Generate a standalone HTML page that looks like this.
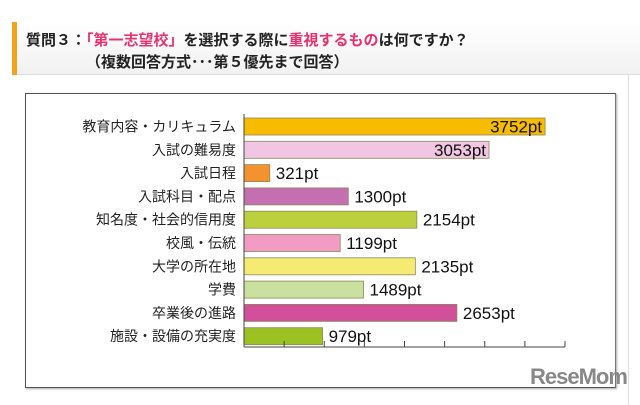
<!DOCTYPE html>
<html><head><meta charset="utf-8"><style>
body{margin:0;width:640px;height:400px;background:#fff;overflow:hidden;font-family:"Liberation Sans","Noto Sans CJK JP",sans-serif;position:relative}
#hdr{position:absolute;left:12px;top:22px;width:628px;height:52px;background:linear-gradient(#fff,#f1f1f1);border-bottom:1px solid #ddd}
#bar{position:absolute;left:12px;top:22px;width:5px;height:53px;background:#f3a21c}
.t{position:absolute;font-weight:bold;font-size:15px;color:#222;white-space:nowrap}
.r{color:#e6336f}
#panel{position:absolute;left:12px;top:75px;width:616px;height:330px;border-right:1px solid #ddd}
#box{position:absolute;left:25px;top:93px;width:589px;height:293px;border:1px solid #555;border-right-color:#777;box-shadow:1px 1px 2px #aaa;background:#fff}
#logo{position:absolute;left:530px;top:364px;font-size:22px;font-weight:bold;color:#888;letter-spacing:-1px}
</style></head><body>
<div id="panel"></div>
<div id="hdr"></div>
<div id="bar"></div>
<div class="t" style="left:26px;top:29px">質問３：<span class="r">「第一志望校」</span>を選択する際に<span class="r">重視するもの</span>は何ですか？</div>
<div class="t" style="left:86px;top:51px">（複数回答方式･･･第５優先まで回答）</div>
<div id="box"></div>
<svg id="chart" width="640" height="400" style="position:absolute;left:0;top:0"></svg>
<div id="logo">ReseMom</div>
<script>
const categories=["教育内容・カリキュラム","入試の難易度","入試日程","入試科目・配点","知名度・社会的信用度","校風・伝統","大学の所在地","学費","卒業後の進路","施設・設備の充実度"];
const values=[3752,3053,321,1300,2154,1199,2135,1489,2653,979];
const colors=["#f7bb00","#f0c6e2","#f4922e","#c470b0","#bccf3c","#f29cc4","#f5ea72","#c9e09e","#d2509a","#9bc222"];
const ticks=[0,500,1000,1500,2000,2500,3000,3500,4000];
const NS="http://www.w3.org/2000/svg";
const svg=document.getElementById('chart');
const x0=244,x1=565,maxV=4000;
const xs=v=>x0+v*(x1-x0)/maxV;
const y0=118,pitch=23.3,bh=17;
const ys=i=>y0+i*pitch;
function mk(t,a){const e=document.createElementNS(NS,t);for(const k in a)e.setAttribute(k,a[k]);svg.appendChild(e);return e;}
categories.forEach((c,i)=>{
 const r=mk('rect',{x:xs(0),y:ys(i),width:xs(values[i])-xs(0),height:bh,fill:colors[i],stroke:'#8a8a5a','stroke-width':0.8});
 
 
 const l=mk('text',{x:236,y:ys(i)+bh/2+5,'text-anchor':'end','font-size':14,fill:'#222'});
 l.textContent=c;
 
 
 const inside=i<2;
 const v=mk('text',{x:inside?xs(values[i])-3:xs(values[i])+6,y:ys(i)+bh/2+6,'text-anchor':inside?'end':'start','font-size':17,fill:'#111'});
 v.textContent=values[i]+'pt';
 
 
});
const ax=mk('line',{x1:x0,x2:x1,y1:347,y2:347,stroke:'#444'});


const ay=mk('line',{x1:x0,x2:x0,y1:114,y2:347,stroke:'#444'});


ticks.forEach(t=>{
 const k=mk('line',{x1:xs(t),x2:xs(t),y1:341,y2:347,stroke:'#444'});
 
 
});
</script>
</body></html>
